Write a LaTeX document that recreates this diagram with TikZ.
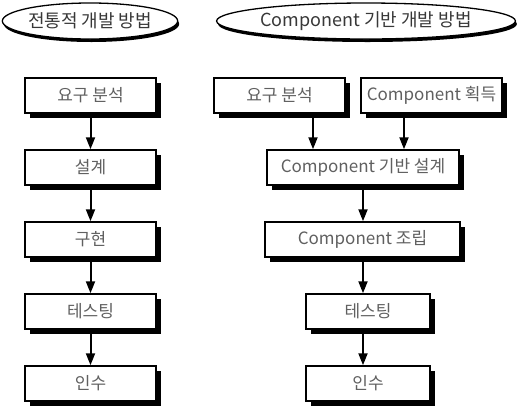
\documentclass[tikz,border=0pt]{standalone}
\usepackage{fontspec}
\setmainfont{Noto Sans CJK KR}
\usetikzlibrary{arrows.meta,shapes.geometric,shadows}
\definecolor{txt}{HTML}{606060}
\definecolor{ttl}{HTML}{383838}
\tikzset{
  stepbox/.style={rectangle, draw=black, line width=1.5pt, fill=white, inner sep=0pt,
    minimum height=35pt, text=txt, font=\fontsize{17}{19}\selectfont,
    general shadow={fill=black, shadow xshift=4.5pt, shadow yshift=-4.5pt}},
  titleell/.style={ellipse, draw=black, line width=1.3pt, fill=white, inner sep=0pt,
    minimum height=36pt, text=ttl, font=\fontsize{18}{20}\selectfont,
    general shadow={fill=black, shadow xshift=1.5pt, shadow yshift=-3pt}},
  arr/.style={line width=2pt, -{Triangle[length=12pt,width=9pt]}}
}
\begin{document}
\begin{tikzpicture}[x=1pt,y=-1pt]
\useasboundingbox[fill=white] (0,0) rectangle (520,408);
% titles
\node[titleell, minimum width=174pt] (t1) at (90,21) {전통적 개발 방법};
\node[titleell, minimum width=250pt] (t2) at (366,21) {Component 기반 개발 방법};
% left column
\node[stepbox, minimum width=131pt] (l1) at (90.5,95.5) {요구 분석};
\node[stepbox, minimum width=131pt] (l2) at (90.5,167.5) {설계};
\node[stepbox, minimum width=131pt] (l3) at (90.5,239.5) {구현};
\node[stepbox, minimum width=131pt] (l4) at (90.5,311.5) {테스팅};
\node[stepbox, minimum width=131pt] (l5) at (90.5,383.5) {인수};
\draw[arr] (l1.south) -- (l2.north);
\draw[arr] (l2.south) -- (l3.north);
\draw[arr] (l3.south) -- (l4.north);
\draw[arr] (l4.south) -- (l5.north);
% right column
\node[stepbox, minimum width=131pt] (r1) at (279.5,95.5) {요구 분석};
\node[stepbox, minimum width=141pt] (r2) at (431.5,95.5) {Component 획득};
\node[stepbox, minimum width=192pt] (r3) at (363,167.5) {Component 기반 설계};
\node[stepbox, minimum width=195pt] (r4) at (362.5,239.5) {Component 조립};
\node[stepbox, minimum width=124pt] (r5) at (368,311.5) {테스팅};
\node[stepbox, minimum width=124pt] (r6) at (368,383.5) {인수};
\draw[arr] (r1.south -| 313,0) -- (r3.north -| 313,0);
\draw[arr] (r2.south -| 404,0) -- (r3.north -| 404,0);
\draw[arr] (r3.south -| 363,0) -- (r4.north -| 363,0);
\draw[arr] (r4.south -| 363,0) -- (r5.north -| 363,0);
\draw[arr] (r5.south -| 363,0) -- (r6.north -| 363,0);
\end{tikzpicture}
\end{document}
